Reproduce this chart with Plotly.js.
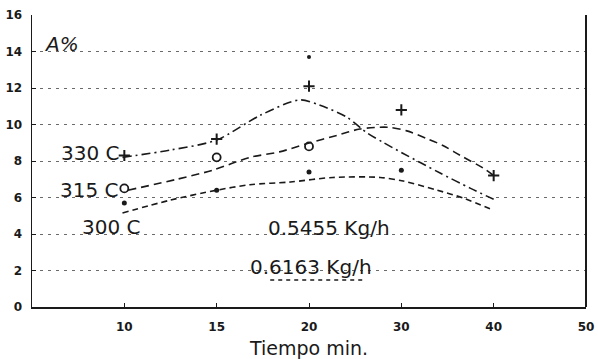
<!DOCTYPE html>
<html>
<head>
<meta charset="utf-8">
<script src="https://cdn.plot.ly/plotly-3.0.1.min.js"></script>
<style>
html,body{margin:0;padding:0;background:#fff;}
#chart{width:598px;height:359px;}
</style>
</head>
<body>
<div id="chart"></div>
<script>
// ---- data ----
// x axis is a broken scale: the ticks 10,15,20,30,40,50 are equally spaced
const axisTimes = [5, 10, 15, 20, 30, 40, 50];      // time at axis positions 0..6
const tickLabels = ['10', '15', '20', '30', '40', '50'];
const tickTimes = [10, 15, 20, 30, 40, 50];

// measured points
const t330 = [10, 15, 20, 30, 40];
const y330 = [8.3, 9.2, 12.1, 10.8, 7.2];
const t315 = [10, 15, 20];
const y315 = [6.5, 8.2, 8.8];
const t300 = [10, 15, 20, 30];
const y300 = [5.7, 6.4, 7.4, 7.5];
const tStray = [20];
const yStray = [13.7];

// fitted curves
const tc330 = [9.9, 12.5, 15, 17.35, 19.5, 21.2, 24.1, 26.4, 28.1, 30.1, 32.1, 34.2, 37.5, 40];
const yc330 = [8.2, 8.6, 9.15, 10.5, 11.35, 11.05, 10.4, 9.5, 9.0, 8.44, 7.9, 7.34, 6.5, 5.9];
const tc315 = [10.2, 12.85, 14.8, 16.8, 18.4, 20.1, 23.0, 25.5, 28.5, 30.6, 32.9, 34.5, 36.4, 38.9, 40];
const yc315 = [6.4, 7.0, 7.5, 8.2, 8.5, 9.0, 9.4, 9.75, 9.85, 9.65, 9.2, 8.85, 8.3, 7.6, 7.2];
const tc300 = [9.9, 12.5, 15, 16.8, 19.0, 22.6, 27.7, 30.2, 33.9, 36.7, 40];
const yc300 = [5.15, 5.86, 6.4, 6.7, 6.85, 7.1, 7.1, 6.9, 6.4, 5.97, 5.3];

// map time to the broken-axis position
function toAxis(t) {
  for (let i = 0; i < axisTimes.length - 1; i++) {
    const a = axisTimes[i], b = axisTimes[i + 1];
    if (t <= b || i === axisTimes.length - 2) return i + (t - a) / (b - a);
  }
}
const ax = arr => arr.map(toAxis);

const FONT = 'DejaVu Sans, Liberation Sans, Arial, sans-serif';
const INK = '#1a1a1a';

const traces = [
  {x: ax(tc330), y: yc330, mode: 'lines', line: {shape: 'spline', smoothing: 0.8, color: INK, width: 1.6, dash: '9px,4px,2px,4px'}, hoverinfo: 'skip'},
  {x: ax(tc315), y: yc315, mode: 'lines', line: {shape: 'spline', smoothing: 0.8, color: INK, width: 1.6, dash: '8px,5px'}, hoverinfo: 'skip'},
  {x: ax(tc300), y: yc300, mode: 'lines', line: {shape: 'spline', smoothing: 0.8, color: INK, width: 1.6, dash: '6px,4px'}, hoverinfo: 'skip'},
  {x: ax(t330), y: y330, mode: 'markers', marker: {symbol: 'cross-thin-open', size: 8, color: INK, line: {color: INK, width: 2}}},
  {x: ax(t315), y: y315, mode: 'markers', marker: {symbol: 'circle-open', size: 8, color: INK, line: {color: INK, width: 1.8}}},
  {x: ax(t300), y: y300, mode: 'markers', marker: {symbol: 'circle', size: 5, color: INK}},
  {x: ax(tStray), y: yStray, mode: 'markers', marker: {symbol: 'circle', size: 4, color: INK}}
];

const annFont = {family: FONT, size: 20, color: INK};
const layout = {
  width: 598, height: 359,
  margin: {l: 32, r: 12, t: 15, b: 52},
  paper_bgcolor: '#fff', plot_bgcolor: '#fff',
  showlegend: false,
  xaxis: {
    range: [0, 6],
    tickvals: tickTimes.map(toAxis), ticktext: tickLabels,
    showgrid: false, zeroline: false,
    showline: true, linecolor: INK, linewidth: 2,
    ticks: 'inside', ticklen: 4, tickcolor: INK,
    tickfont: {family: FONT, size: 12, color: INK, weight: 'bold'},
    ticklabelstandoff: 8,
    title: {text: 'Tiempo min.', font: {family: FONT, size: 19, color: INK}, standoff: 8}
  },
  yaxis: {
    range: [0, 16],
    tickvals: [0, 2, 4, 6, 8, 10, 12, 14, 16],
    showgrid: true, gridcolor: '#6a6a6a', griddash: '3px,5px', gridwidth: 1,
    zeroline: false,
    showline: true, linecolor: INK, linewidth: 1.5,
    ticks: 'inside', ticklen: 4, tickcolor: INK,
    tickfont: {family: FONT, size: 12, color: INK, weight: 'bold'},
    ticklabelstandoff: 6
  },
  shapes: [
    {type: 'line', xref: 'paper', yref: 'paper', x0: 1, x1: 1, y0: 0, y1: 1, line: {color: INK, width: 2}},
    {type: 'line', xref: 'x', yref: 'y', x0: 2.58, x1: 3.59, y0: 1.48, y1: 1.48, line: {color: INK, width: 1.3, dash: '4px,4px'}}
  ],
  annotations: [
    {x: 0.11, y: 14.4, xref: 'x', yref: 'y', xanchor: 'left', yanchor: 'middle', text: '<i>A%</i>', showarrow: false, font: {family: FONT, size: 20, color: INK}},
    {x: 0.98, y: 8.45, xref: 'x', yref: 'y', xanchor: 'right', yanchor: 'middle', text: '330 C', showarrow: false, font: annFont},
    {x: 0.96, y: 6.42, xref: 'x', yref: 'y', xanchor: 'right', yanchor: 'middle', text: '315 C', showarrow: false, font: annFont},
    {x: 0.52, y: 4.38, xref: 'x', yref: 'y', xanchor: 'left', yanchor: 'middle', text: '300 C', showarrow: false, font: annFont},
    {x: 2.53, y: 4.33, xref: 'x', yref: 'y', xanchor: 'left', yanchor: 'middle', text: '0.5455 Kg/h', showarrow: false, font: annFont},
    {x: 2.34, y: 2.2, xref: 'x', yref: 'y', xanchor: 'left', yanchor: 'middle', text: '0.6163 Kg/h', showarrow: false, font: annFont}
  ]
};

Plotly.newPlot('chart', traces, layout, {displayModeBar: false, staticPlot: true});
</script>
</body>
</html>
